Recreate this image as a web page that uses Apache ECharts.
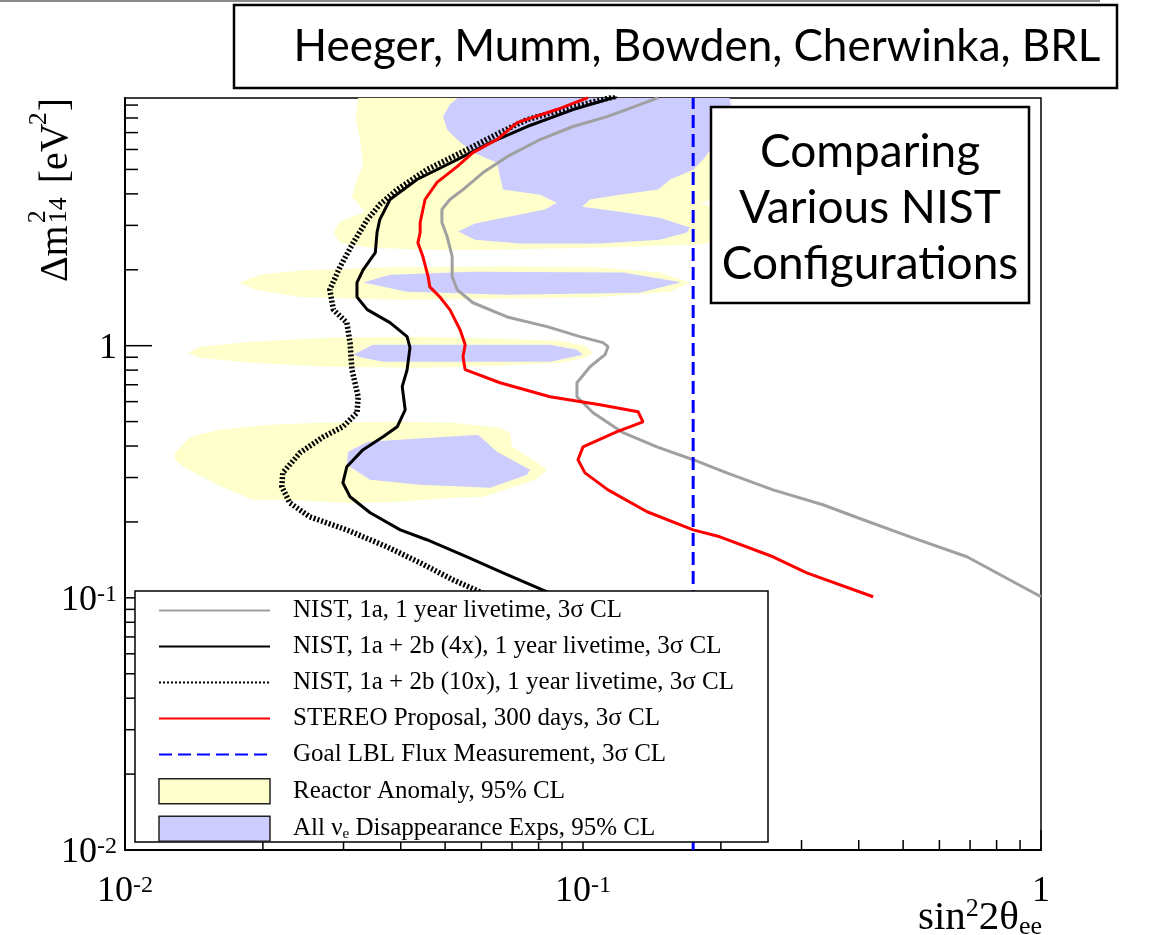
<!DOCTYPE html>
<html>
<head>
<meta charset="utf-8">
<script src="https://cdn.jsdelivr.net/npm/echarts@6.0.0/dist/echarts.min.js"></script>
<style>
html,body{margin:0;padding:0;background:#fff;}
#chart{width:1160px;height:935px;}
</style>
</head>
<body>
<div id="chart"></div>
<script>
// exclusion curves, points are [sin^2 2theta, dm2_14]
var nist1a=[[0.146,9.64],[0.133,9.04],[0.113,8.10],[0.0951,7.40],[0.0806,6.57],[0.0683,5.62],[0.0605,4.86],[0.0547,4.16],[0.0512,3.80],[0.0492,3.47],[0.0492,3.08],[0.0505,2.71],[0.0518,2.26],[0.0518,1.88],[0.0531,1.67],[0.0575,1.48],[0.0683,1.30],[0.0835,1.19],[0.0985,1.086],[0.1106,1.028],[0.1134,0.991],[0.1117,0.921],[0.1036,0.825],[0.0970,0.713],[0.0970,0.627],[0.1052,0.542],[0.1223,0.452],[0.145,0.397],[0.174,0.353],[0.206,0.313],[0.260,0.268],[0.334,0.234],[0.409,0.204],[0.518,0.1746],[0.689,0.1455],[1.0,0.101]];
var nist4x=[[0.1187,9.73],[0.0951,8.64],[0.0755,7.40],[0.0627,6.39],[0.0531,5.47],[0.0434,4.56],[0.0379,3.80],[0.0360,3.16],[0.0355,2.81],[0.0352,2.34],[0.0331,2.00],[0.0321,1.78],[0.0321,1.56],[0.0338,1.39],[0.0379,1.234],[0.0413,1.086],[0.0419,0.982],[0.0413,0.803],[0.0403,0.688],[0.0409,0.557],[0.0393,0.477],[0.0366,0.435],[0.0331,0.387],[0.0305,0.331],[0.0299,0.286],[0.0310,0.2517],[0.0343,0.2175],[0.0399,0.186],[0.0456,0.170],[0.0558,0.1455],[0.0669,0.1257],[0.0835,0.1056],[0.0985,0.0938]];
var nist10x=[[0.1175,9.73],[0.0937,8.80],[0.0755,7.88],[0.0659,7.00],[0.0558,5.99],[0.0456,4.99],[0.0393,4.16],[0.0360,3.63],[0.0338,3.16],[0.0315,2.56],[0.0295,2.06],[0.0280,1.67],[0.0285,1.39],[0.0305,1.234],[0.0310,1.028],[0.0313,0.803],[0.0323,0.627],[0.0321,0.542],[0.0299,0.477],[0.0271,0.435],[0.0241,0.376],[0.0221,0.313],[0.0220,0.2757],[0.0229,0.238],[0.0253,0.2097],[0.0305,0.186],[0.0373,0.1594],[0.0441,0.1377],[0.0520,0.1179],[0.0596,0.1056],[0.0693,0.0938]];
var stereo=[[0.1025,9.64],[0.0877,8.64],[0.0718,7.67],[0.0649,6.57],[0.0575,5.83],[0.0531,5.13],[0.0480,4.44],[0.0452,3.80],[0.0441,3.08],[0.0441,2.81],[0.0436,2.56],[0.0447,2.26],[0.0459,1.88],[0.0463,1.71],[0.0487,1.56],[0.0512,1.39],[0.0539,1.157],[0.0553,1.009],[0.0547,0.904],[0.0553,0.803],[0.0659,0.713],[0.0847,0.627],[0.1089,0.583],[0.1319,0.547],[0.1352,0.499],[0.1187,0.456],[0.100,0.397],[0.0975,0.353],[0.1010,0.313],[0.1134,0.268],[0.138,0.2195],[0.174,0.186],[0.199,0.1746],[0.260,0.1455],[0.308,0.1257],[0.430,0.101]];
var lblGoal=[[0.174,0.01],[0.174,9.6]];

// allowed regions, each one is a closed outline
var reactorBlobs=[
	[[0.0323,9.64],[0.199,9.64],[0.204,9.04],[0.213,8.25],[0.207,6.88],[0.201,5.47],[0.199,4.77],[0.213,4.35],[0.207,3.90],[0.180,3.69],[0.204,3.40],[0.207,3.02],[0.201,2.63],[0.180,2.52],[0.1089,2.45],[0.0659,2.40],[0.0441,2.40],[0.0343,2.45],[0.0295,2.56],[0.0285,2.81],[0.0295,3.11],[0.0334,3.40],[0.0313,3.90],[0.0318,4.35],[0.0331,5.23],[0.0326,6.57],[0.0319,7.88]],
	[[0.0178,1.78],[0.0197,1.913],[0.0241,1.985],[0.0360,2.04],[0.0659,2.06],[0.1089,2.04],[0.147,1.949],[0.171,1.78],[0.155,1.638],[0.1089,1.56],[0.0659,1.536],[0.0399,1.522],[0.0241,1.56],[0.0192,1.67]],
	[[0.0137,0.938],[0.0146,0.991],[0.01875,1.037],[0.0280,1.076],[0.0441,1.086],[0.0659,1.066],[0.0891,1.047],[0.101,1.0],[0.1052,0.938],[0.101,0.896],[0.0891,0.856],[0.0659,0.833],[0.0441,0.818],[0.0280,0.825],[0.01875,0.856],[0.0146,0.896]],
	[[0.01286,0.376],[0.0139,0.435],[0.0161,0.464],[0.0207,0.486],[0.0267,0.495],[0.0399,0.499],[0.0520,0.495],[0.0659,0.473],[0.0693,0.452],[0.0700,0.397],[0.0766,0.359],[0.0835,0.322],[0.0786,0.294],[0.0729,0.281],[0.0605,0.2517],[0.0520,0.2494],[0.0399,0.2404],[0.0315,0.238],[0.0221,0.245],[0.0190,0.245],[0.0159,0.281],[0.0134,0.331],[0.01286,0.353]]
];
var disappBlobs=[
	[[0.0534,9.64],[0.209,9.64],[0.2115,8.41],[0.202,7.20],[0.192,6.16],[0.183,5.47],[0.174,4.99],[0.155,4.56],[0.146,4.16],[0.1204,3.97],[0.1036,3.80],[0.0995,3.56],[0.1204,3.40],[0.147,3.22],[0.171,2.94],[0.1687,2.81],[0.147,2.63],[0.1089,2.54],[0.0729,2.54],[0.0581,2.63],[0.0534,2.835],[0.0581,3.05],[0.0693,3.25],[0.0826,3.47],[0.0877,3.69],[0.0806,3.97],[0.0669,4.16],[0.0659,4.68],[0.0649,5.32],[0.0575,5.83],[0.0531,6.57],[0.0505,7.20],[0.0495,8.10],[0.0512,9.04]],
	[[0.0331,1.78],[0.0379,1.913],[0.0575,1.966],[0.1223,1.949],[0.1604,1.795],[0.1628,1.78],[0.133,1.623],[0.0683,1.594],[0.0413,1.638]],
	[[0.0315,0.921],[0.0348,1.009],[0.0847,1.009],[0.0970,0.964],[0.1,0.921],[0.0847,0.864],[0.0366,0.864],[0.0331,0.896]],
	[[0.0307,0.380],[0.0339,0.416],[0.0590,0.443],[0.0649,0.380],[0.0766,0.322],[0.0755,0.308],[0.0627,0.273],[0.0441,0.281],[0.0343,0.294],[0.0305,0.337]]
];

var xTickVals=[0.01,0.02,0.03,0.04,0.05,0.06,0.07,0.08,0.09,0.1,0.2,0.3,0.4,0.5,0.6,0.7,0.8,0.9,1];
var yTickVals=[0.01,0.02,0.03,0.04,0.05,0.06,0.07,0.08,0.09,0.1,0.2,0.3,0.4,0.5,0.6,0.7,0.8,0.9,1,2,3,4,5,6,7,8,9];

var legendNames=['NIST, 1a, 1 year livetime, 3σ CL','NIST, 1a + 2b (4x), 1 year livetime, 3σ CL','NIST, 1a + 2b (10x), 1 year livetime, 3σ CL','STEREO Proposal, 300 days, 3σ CL','Goal LBL Flux Measurement, 3σ CL','Reactor Anomaly, 95% CL','All νe Disappearance Exps, 95% CL'];

var serif="'Liberation Serif','DejaVu Serif',serif";
var sans="Lato,'Open Sans',sans-serif";

function isDecade(v){
	var e=Math.log10(v);
	return Math.abs(e-Math.round(e))<1e-6;
}
function powLabel(v){
	if(!isDecade(v)) return '';
	var e=Math.round(Math.log10(v));
	if(e==0) return '1';
	return '10{sup|'+e+'}';
}

function blobSeries(name,blobs,color){
	return {
		name:name,
		type:'custom',
		coordinateSystem:'cartesian2d',
		clip:true,
		z:1,
		silent:true,
		itemStyle:{color:color},
		data:blobs.map(function(b){return b[0];}),
		renderItem:function(params,api){
			var pts=blobs[params.dataIndex].map(function(p){return api.coord(p);});
			return {type:'polygon',shape:{points:pts},style:{fill:color,stroke:null}};
		}
	};
}

function curve(name,data,color,width,type){
	return {
		name:name,
		type:'line',
		data:data,
		symbol:'none',
		showSymbol:false,
		smooth:false,
		z:2,
		lineStyle:{color:color,width:width,type:type||'solid',cap:'butt'},
		itemStyle:{color:color}
	};
}

// y axis title: the 2 sits over the 14, so the pieces are placed by hand
var measureCtx=document.createElement('canvas').getContext('2d');
function textW(str,size){
	measureCtx.font=size+"px 'Liberation Serif'";
	return measureCtx.measureText(str).width;
}
function yTitleGroup(){
	var big=40,small=26,pos=0,pieces=[];
	pieces.push({t:'Δm',s:big,dy:0,x:pos}); pos+=textW('Δm',big)+2;
	pieces.push({t:'2',s:small,dy:-18,x:pos});
	pieces.push({t:'14',s:small,dy:3,x:pos}); pos+=textW('14',small)+4;
	pieces.push({t:' [eV',s:big,dy:0,x:pos}); pos+=textW(' [eV',big)-2;
	pieces.push({t:'2',s:small,dy:-17,x:pos}); pos+=textW('2',small)+1;
	pieces.push({t:']',s:big,dy:0,x:pos}); pos+=textW(']',big);
	var w=pos;
	return {
		type:'group',x:56,y:98,rotation:Math.PI/2,z:11,
		children:pieces.map(function(p){
			return {type:'text',z:11,x:p.x-w,y:p.dy,style:{text:p.t,fontFamily:serif,fontSize:p.s,fill:'#000',align:'left',verticalAlign:'middle'}};
		})
	};
}

// line entries in the legend: no marker on the sample line
var noMark={color:'rgba(0,0,0,0)',borderColor:'rgba(0,0,0,0)',borderWidth:0};

var chart=echarts.init(document.getElementById('chart'));

var option={
	backgroundColor:'#fff',
	animation:false,
	grid:{left:125,right:119,top:98,bottom:85,show:true,borderColor:'#000',borderWidth:1.5,backgroundColor:'transparent'},
	xAxis:{
		type:'log',logBase:10,min:0.01,max:1,
		axisLine:{lineStyle:{color:'#000',width:2}},
		axisTick:{show:false},
		splitLine:{show:false},
		axisLabel:{
			margin:24,color:'#000',fontFamily:serif,fontSize:36,
			formatter:powLabel,
			rich:{sup:{fontFamily:serif,fontSize:24,verticalAlign:'top',lineHeight:20,color:'#000'}}
		}
	},
	yAxis:{
		type:'log',logBase:10,min:0.01,max:9.6,
		axisLine:{lineStyle:{color:'#000',width:2}},
		axisTick:{show:false},
		splitLine:{show:false},
		axisLabel:{
			margin:8,color:'#000',fontFamily:serif,fontSize:36,
			padding:[6,0,0,0],
			showMaxLabel:false,
			formatter:powLabel,
			rich:{sup:{fontFamily:serif,fontSize:24,verticalAlign:'top',lineHeight:20,color:'#000'}}
		}
	},
	legend:{
		orient:'vertical',left:135,top:591,
		itemWidth:111,itemHeight:25,itemGap:11,
		padding:[7,0,5,23],
		selectedMode:false,
		textStyle:{
			fontFamily:serif,fontSize:25,color:'#000',padding:[0,0,0,18],
			rich:{sub:{fontFamily:serif,fontSize:15,verticalAlign:'bottom',lineHeight:12,color:'#000'}}
		},
		formatter:function(name){
			if(name.indexOf('All')==0) return 'All ν{sub|e} Disappearance Exps, 95% CL';
			return name;
		},
		data:[
			{name:legendNames[0],itemStyle:noMark},
			{name:legendNames[1],itemStyle:noMark},
			{name:legendNames[2],itemStyle:noMark},
			{name:legendNames[3],itemStyle:noMark},
			{name:legendNames[4],itemStyle:noMark},
			{name:legendNames[5],icon:'rect',itemStyle:{color:'#ffffcc',borderColor:'#222',borderWidth:1.5}},
			{name:legendNames[6],icon:'rect',itemStyle:{color:'#ccccff',borderColor:'#222',borderWidth:1.5}}
		]
	},
	graphic:[
		{type:'line',z:10,shape:{x1:0,y1:1,x2:1100,y2:1},style:{stroke:'#8a8a8a',lineWidth:2}},
		{type:'rect',z:10,shape:{x:234,y:5,width:883,height:83},style:{fill:'#fff',stroke:'#000',lineWidth:2.5}},
		{type:'text',z:11,x:697,y:47,style:{text:'Heeger, Mumm, Bowden, Cherwinka, BRL',fontFamily:sans,fontSize:44,fill:'#000',align:'center',verticalAlign:'middle'}},
		{type:'rect',z:10,shape:{x:711,y:107,width:318,height:196},style:{fill:'#fff',stroke:'#000',lineWidth:2.5}},
		{type:'text',z:11,x:870,y:208,style:{text:'Comparing\nVarious NIST\nConfigurations',fontFamily:sans,fontSize:46,lineHeight:56,fill:'#000',align:'center',verticalAlign:'middle'}},
		// legend frame, sits over the curves but under the legend items
		{type:'rect',z:3,shape:{x:135,y:591,width:633,height:251},style:{fill:'#fff',stroke:'#000',lineWidth:1.5}},
		yTitleGroup(),
		{type:'text',z:11,x:1042,y:918,style:{
			text:'{b|sin}{sup|2}{b|2θ}{sub|ee}',fill:'#000',align:'right',verticalAlign:'middle',
			rich:{
				b:{fontFamily:serif,fontSize:41,lineHeight:44,verticalAlign:'middle'},
				sup:{fontFamily:serif,fontSize:26,verticalAlign:'top',lineHeight:12},
				sub:{fontFamily:serif,fontSize:26,verticalAlign:'bottom',lineHeight:26}
			}}}
	],
	series:[
		blobSeries(legendNames[5],reactorBlobs,'#ffffcc'),
		blobSeries(legendNames[6],disappBlobs,'#ccccff'),
		curve(legendNames[0],nist1a,'#a0a0a0',3),
		curve(legendNames[2],nist10x,'#000',5.5,[2,2]),
		curve(legendNames[1],nist4x,'#000',3),
		curve(legendNames[3],stereo,'#ff0000',3),
		curve(legendNames[4],lblGoal,'#0000ff',3,[13,6]),
		{
			//x axis ticks, inside the frame
			type:'custom',coordinateSystem:'cartesian2d',silent:true,z:2,clip:false,
			data:xTickVals.map(function(v){return [v,0.01];}),
			renderItem:function(params,api){
				var v=api.value(0);
				var p=api.coord([v,0.01]);
				var len=isDecade(v)?20:10;
				return {type:'line',shape:{x1:p[0],y1:p[1],x2:p[0],y2:p[1]-len},style:{stroke:'#000',lineWidth:1.5}};
			}
		},
		{
			//y axis ticks
			type:'custom',coordinateSystem:'cartesian2d',silent:true,z:2,clip:false,
			data:yTickVals.map(function(v){return [0.01,v];}),
			renderItem:function(params,api){
				var v=api.value(1);
				var p=api.coord([0.01,v]);
				var len=isDecade(v)?27:13;
				return {type:'line',shape:{x1:p[0],y1:p[1],x2:p[0]+len,y2:p[1]},style:{stroke:'#000',lineWidth:1.5}};
			}
		}
	]
};
chart.setOption(option);
</script>
</body>
</html>
